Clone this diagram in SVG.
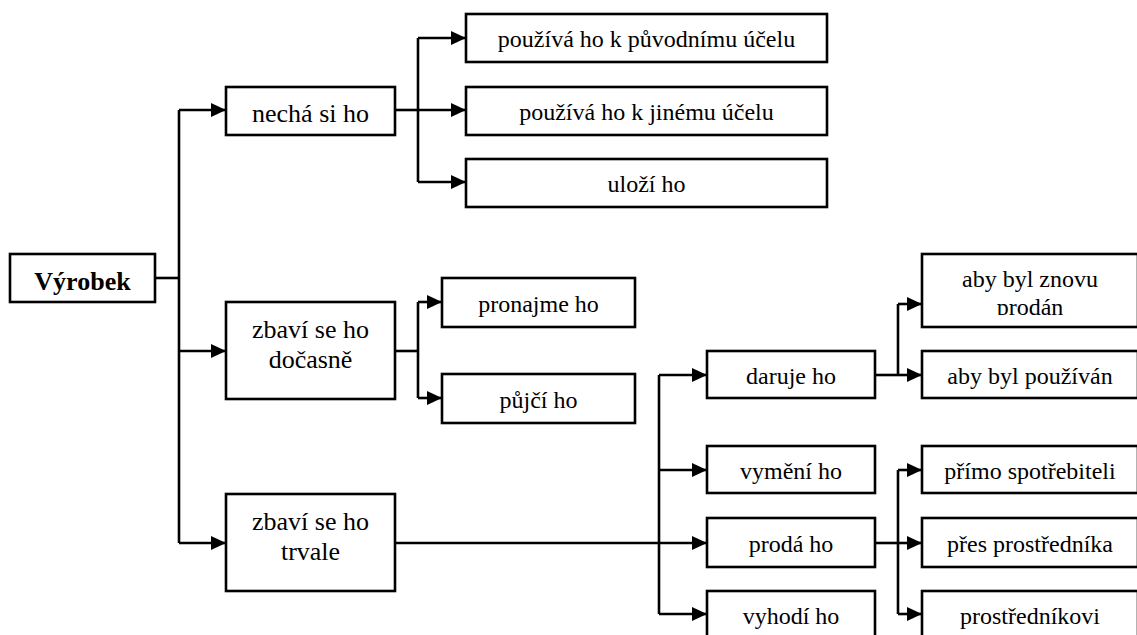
<svg xmlns="http://www.w3.org/2000/svg" width="1137" height="635" viewBox="0 0 1137 635">
  <style>
    .box { fill: #ffffff; stroke: #000000; stroke-width: 2.6; }
    .wire { fill: none; stroke: #000000; stroke-width: 2.6; }
    .arrow { fill: none; stroke: #000000; stroke-width: 2.6; marker-end: url(#head); }
    .label { font-family: 'Liberation Serif', 'DejaVu Serif', serif; fill: #000000; text-anchor: middle; }
    .t24 { font-size: 24px; }
    .t26 { font-size: 26px; }
    .root { font-size: 26px; font-weight: bold; }
  </style>
  <defs>
    <marker id="head" markerUnits="userSpaceOnUse" markerWidth="16" markerHeight="16" refX="15" refY="7" orient="auto">
      <path d="M0,0 L15,7 L0,14 Z" fill="#000000"/>
    </marker>
    <clipPath id="clip-resale">
      <rect x="922" y="254" width="216" height="61"/>
    </clipPath>
  </defs>

  <rect width="1137" height="635" fill="#ffffff"/>

  <!-- connectors -->
  <g id="connectors">
    <!-- root trunk -->
    <line class="wire" x1="155" y1="278" x2="179" y2="278"/>
    <line class="wire" x1="179" y1="110" x2="179" y2="543"/>
    <line class="arrow" x1="179" y1="110" x2="226" y2="110"/>
    <line class="arrow" x1="179" y1="351" x2="226" y2="351"/>
    <line class="arrow" x1="179" y1="543" x2="226" y2="543"/>

    <!-- keeps it -->
    <line class="wire" x1="395" y1="110" x2="418" y2="110"/>
    <line class="wire" x1="418" y1="38" x2="418" y2="182"/>
    <line class="arrow" x1="418" y1="38" x2="466" y2="38"/>
    <line class="arrow" x1="418" y1="110" x2="466" y2="110"/>
    <line class="arrow" x1="418" y1="182" x2="466" y2="182"/>

    <!-- temporarily -->
    <line class="wire" x1="395" y1="351" x2="418" y2="351"/>
    <line class="wire" x1="418" y1="302" x2="418" y2="398"/>
    <line class="arrow" x1="418" y1="302" x2="442" y2="302"/>
    <line class="arrow" x1="418" y1="398" x2="442" y2="398"/>

    <!-- permanently -->
    <line class="wire" x1="395" y1="543" x2="659" y2="543"/>
    <line class="wire" x1="659" y1="375" x2="659" y2="614"/>
    <line class="arrow" x1="659" y1="375" x2="707" y2="375"/>
    <line class="arrow" x1="659" y1="470" x2="707" y2="470"/>
    <line class="arrow" x1="659" y1="543" x2="707" y2="543"/>
    <line class="arrow" x1="659" y1="614" x2="707" y2="614"/>

    <!-- gives it away -->
    <line class="wire" x1="875" y1="375" x2="898" y2="375"/>
    <line class="wire" x1="898" y1="304" x2="898" y2="375"/>
    <line class="arrow" x1="898" y1="304" x2="922" y2="304"/>
    <line class="arrow" x1="898" y1="375" x2="922" y2="375"/>

    <!-- sells it -->
    <line class="wire" x1="875" y1="543" x2="898" y2="543"/>
    <line class="wire" x1="898" y1="470" x2="898" y2="614"/>
    <line class="arrow" x1="898" y1="470" x2="922" y2="470"/>
    <line class="arrow" x1="898" y1="543" x2="922" y2="543"/>
    <line class="arrow" x1="898" y1="614" x2="922" y2="614"/>
  </g>

  <!-- nodes -->
  <g id="vyrobek">
    <rect class="box" x="10" y="254" width="145" height="48"/>
    <text class="label root" font-family="Liberation Serif, serif" x="82.5" y="290">Výrobek</text>
  </g>

  <g id="necha-si-ho">
    <rect class="box" x="226" y="87" width="169" height="48"/>
    <text class="label t26" font-family="Liberation Serif, serif" x="310.5" y="122">nechá si ho</text>
  </g>

  <g id="zbavi-docasne">
    <rect class="box" x="226" y="302" width="169" height="97"/>
    <text class="label t26" font-family="Liberation Serif, serif" x="310.5" y="338">zbaví se ho</text>
    <text class="label t26" font-family="Liberation Serif, serif" x="310.5" y="368">dočasně</text>
  </g>

  <g id="zbavi-trvale">
    <rect class="box" x="226" y="494" width="169" height="97"/>
    <text class="label t26" font-family="Liberation Serif, serif" x="310.5" y="530">zbaví se ho</text>
    <text class="label t26" font-family="Liberation Serif, serif" x="310.5" y="560">trvale</text>
  </g>

  <g id="puvodni-ucel">
    <rect class="box" x="466" y="14" width="361" height="48"/>
    <text class="label t24" font-family="Liberation Serif, serif" x="646.5" y="47">používá ho k původnímu účelu</text>
  </g>

  <g id="jiny-ucel">
    <rect class="box" x="466" y="87" width="361" height="48"/>
    <text class="label t24" font-family="Liberation Serif, serif" x="646.5" y="120">používá ho k jinému účelu</text>
  </g>

  <g id="ulozi">
    <rect class="box" x="466" y="159" width="361" height="48"/>
    <text class="label t24" font-family="Liberation Serif, serif" x="646.5" y="192">uloží ho</text>
  </g>

  <g id="pronajme">
    <rect class="box" x="442" y="278" width="193" height="49"/>
    <text class="label t24" font-family="Liberation Serif, serif" x="538.5" y="311.5">pronajme ho</text>
  </g>

  <g id="pujci">
    <rect class="box" x="442" y="374" width="193" height="49"/>
    <text class="label t24" font-family="Liberation Serif, serif" x="538.5" y="407.5">půjčí ho</text>
  </g>

  <g id="daruje">
    <rect class="box" x="707" y="351" width="168" height="47"/>
    <text class="label t24" font-family="Liberation Serif, serif" x="791" y="384">daruje ho</text>
  </g>

  <g id="vymeni">
    <rect class="box" x="707" y="446" width="168" height="47"/>
    <text class="label t24" font-family="Liberation Serif, serif" x="791" y="479">vymění ho</text>
  </g>

  <g id="proda">
    <rect class="box" x="707" y="518" width="168" height="49"/>
    <text class="label t24" font-family="Liberation Serif, serif" x="791" y="551.5">prodá ho</text>
  </g>

  <g id="vyhodi">
    <rect class="box" x="707" y="591" width="168" height="60"/>
    <text class="label t24" font-family="Liberation Serif, serif" x="791" y="624">vyhodí ho</text>
  </g>

  <g id="znovu-prodan">
    <rect class="box" x="922" y="254" width="216" height="73"/>
    <g clip-path="url(#clip-resale)">
      <text class="label t24" font-family="Liberation Serif, serif" x="1030" y="287">aby byl znovu</text>
      <text class="label t24" font-family="Liberation Serif, serif" x="1030" y="315">prodán</text>
    </g>
  </g>

  <g id="pouzivan">
    <rect class="box" x="922" y="351" width="216" height="47"/>
    <text class="label t24" font-family="Liberation Serif, serif" x="1030" y="384">aby byl používán</text>
  </g>

  <g id="primo">
    <rect class="box" x="922" y="446" width="216" height="47"/>
    <text class="label t24" font-family="Liberation Serif, serif" x="1030" y="479">přímo spotřebiteli</text>
  </g>

  <g id="pres">
    <rect class="box" x="922" y="518" width="216" height="49"/>
    <text class="label t24" font-family="Liberation Serif, serif" x="1030" y="551.5">přes prostředníka</text>
  </g>

  <g id="prostrednikovi">
    <rect class="box" x="922" y="591" width="216" height="60"/>
    <text class="label t24" font-family="Liberation Serif, serif" x="1030" y="624">prostředníkovi</text>
  </g>
</svg>
